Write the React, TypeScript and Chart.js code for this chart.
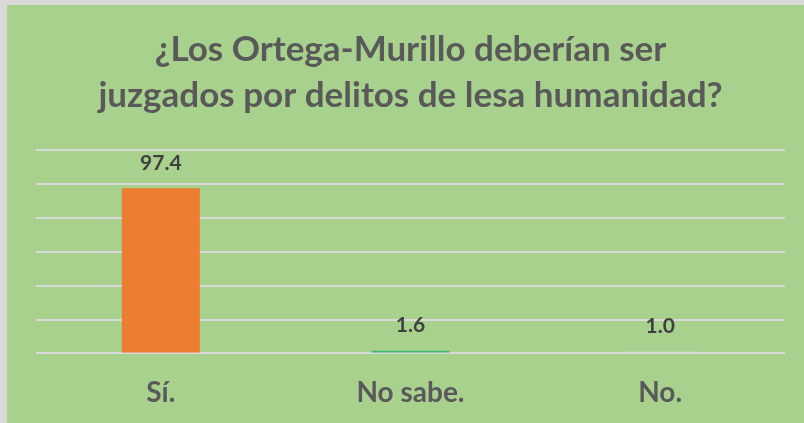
import React, { useEffect, useRef } from "react";
import { Chart, registerables } from "chart.js";

Chart.register(...registerables);

const titleLines = ["¿Los Ortega-Murillo deberían ser", "juzgados por delitos de lesa humanidad?"];
const categories = ["Sí.", "No sabe.", "No."];
const values = [97.4, 1.6, 1.0];
const barColors = ["#ED7D31", "#3DB56F", "#D9D9D9"];
const yMin = 0;
const yMax = 120;
const yStep = 20;

const FONT = "Lato, 'Open Sans', sans-serif";

const valueLabels = {
  id: "valueLabels",
  afterDatasetsDraw(chart: any) {
    const ctx = chart.ctx;
    const meta = chart.getDatasetMeta(0);
    ctx.save();
    ctx.font = `bold 21px ${FONT}`;
    ctx.fillStyle = "#404040";
    ctx.textAlign = "center";
    ctx.textBaseline = "middle";
    meta.data.forEach((bar: any, i: number) => {
      ctx.fillText(values[i].toFixed(1), bar.x, bar.y - 25);
    });
    ctx.restore();
  },
};

export default function App() {
  const ref = useRef<HTMLCanvasElement | null>(null);
  useEffect(() => {
    if (!ref.current) return;
    const chart = new Chart(ref.current, {
      type: "bar",
      data: {
        labels: categories,
        datasets: [
          {
            data: values,
            backgroundColor: barColors,
            borderWidth: 0,
            barPercentage: 0.3124,
            categoryPercentage: 1,
          },
        ],
      },
      options: {
        animation: false,
        responsive: false,
        maintainAspectRatio: false,
        layout: { padding: { left: 29, right: 19, top: 0, bottom: -2 } },
        plugins: {
          legend: { display: false },
          tooltip: { enabled: false },
          title: {
            display: true,
            text: titleLines,
            color: "#595959",
            font: { family: FONT, size: 35, weight: "bold", lineHeight: "46px" },
            padding: { top: 22, bottom: 31 },
          },
        },
        scales: {
          x: {
            grid: { display: false },
            border: { display: false },
            ticks: {
              color: "#595959",
              font: { family: FONT, size: 28, weight: "bold" },
              padding: 15,
            },
          },
          y: {
            min: yMin,
            max: yMax,
            ticks: { stepSize: yStep, display: false },
            grid: { color: "#D9D9D9", lineWidth: 2, drawTicks: false },
            border: { display: false },
          },
        },
      },
      plugins: [valueLabels],
    });
    return () => chart.destroy();
  }, []);
  return (
    <div style={{ position: "fixed", left: 0, top: 0, width: 804, height: 423, background: "#D9D9D9" }}>
      <canvas
        ref={ref}
        width={797}
        height={418}
        style={{ position: "absolute", left: 7, top: 5, width: 797, height: 418, background: "#A9D18E", display: "block" }}
      />
    </div>
  );
}
